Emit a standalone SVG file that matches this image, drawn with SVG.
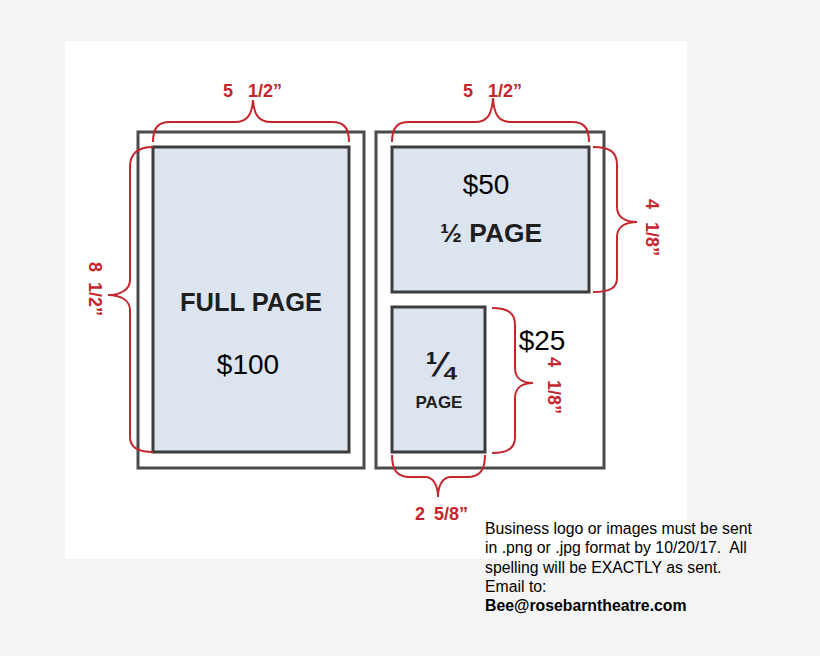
<svg xmlns="http://www.w3.org/2000/svg" width="820" height="656" viewBox="0 0 820 656">
<style>
.outer{fill:#ffffff;stroke:#4a4a4a;stroke-width:3}
.inner{fill:#dbe4ef;stroke:#3c3c3c;stroke-width:3}
.brace{fill:none;stroke:#c4262e;stroke-width:2}
.dim{font-family:"Liberation Sans",Arial,sans-serif;font-weight:bold;font-size:18px;fill:#c4262e}
.lbl{font-family:"Liberation Sans",Arial,sans-serif;font-weight:bold;fill:#1e1e1e;text-anchor:middle}
.price{font-family:"Liberation Sans",Arial,sans-serif;font-size:28px;fill:#000;text-anchor:middle}
.note{font-family:"Liberation Sans",Arial,sans-serif;font-size:15.8px;fill:#000}
</style>
<rect x="0" y="0" width="820" height="656" fill="#f4f4f4"/>
<rect x="65" y="41" width="622" height="518" fill="#ffffff"/>

<g id="full-page">
  <rect class="outer" x="138" y="132" width="226" height="336"/>
  <rect class="inner" x="153" y="147" width="196" height="305"/>
  <text class="lbl" x="251" y="311" font-size="25" textLength="142" lengthAdjust="spacingAndGlyphs">FULL PAGE</text>
  <text class="price" x="248" y="374">$100</text>
</g>

<g id="right-page">
  <rect class="outer" x="376" y="132" width="228" height="336"/>
</g>

<g id="half-page">
  <rect class="inner" x="392" y="147" width="197" height="145"/>
  <text class="price" x="486" y="194">$50</text>
  <text class="lbl" x="491" y="242" font-size="25" textLength="102" lengthAdjust="spacingAndGlyphs">½ PAGE</text>
</g>

<g id="quarter-page">
  <rect class="inner" x="392" y="307" width="93" height="145"/>
  <text class="lbl" x="440" y="376" font-size="35">¼</text>
  <text class="lbl" x="439" y="408" font-size="17">PAGE</text>
  <text class="price" x="542" y="350">$25</text>
</g>

<g id="connectors">
  <path class="brace" d="M153,142 C153,128 158,122 170,122 L235,122 C247,122 252,115 253,100 C254,115 259,122 271,122 L332,122 C344,122 349,128 349,142"/>
  <path class="brace" d="M153,147 C138,147 130,153 130,167 L130,280 C130,290 120,295 108,295 C120,295 130,300 130,310 L130,437 C130,447 138,452 153,452"/>
  <path class="brace" d="M392,142 C392,128 397,122 409,122 L475,122 C487,122 492,115 493,98 C494,115 499,122 511,122 L572,122 C584,122 589,128 589,142"/>
  <path class="brace" d="M593,147 C610,147 617,152 617,165 L617,207 C617,217 625,222 637,222 C625,222 617,227 617,237 L617,278 C617,288 610,292 593,292"/>
  <path class="brace" d="M492,308 C508,308 515,313 515,325 L515,368 C515,378 522,383 533,383 C522,383 515,388 515,398 L515,438 C515,448 508,453 492,453"/>
  <path class="brace" d="M392,455 C392,470 397,477 410,477 L425,477 C433,477 438,485 438,497 C438,485 443,477 451,477 L467,477 C480,477 485,470 485,455"/>
</g>

<g id="dimension-labels">
  <text class="dim" y="97"><tspan x="223">5</tspan><tspan x="248">1/2”</tspan></text>
  <text class="dim" y="97"><tspan x="463">5</tspan><tspan x="488">1/2”</tspan></text>
  <text class="dim" y="520"><tspan x="415">2</tspan><tspan x="434">5/8”</tspan></text>
  <text class="dim" transform="translate(89,262) rotate(90)" y="0"><tspan x="0">8</tspan><tspan x="20">1/2”</tspan></text>
  <text class="dim" transform="translate(646,199) rotate(90)" y="0"><tspan x="0">4</tspan><tspan x="23">1/8”</tspan></text>
  <text class="dim" transform="translate(548,357) rotate(90)" y="0"><tspan x="0">4</tspan><tspan x="23">1/8”</tspan></text>
</g>

<g id="note">
  <text class="note" x="485" y="534">Business logo or images must be sent</text>
  <text class="note" x="485" y="553" xml:space="preserve">in .png or .jpg format by 10/20/17.  All</text>
  <text class="note" x="485" y="573">spelling will be EXACTLY as sent.</text>
  <text class="note" x="485" y="592">Email to:</text>
  <text class="note" x="485" y="611" font-weight="bold">Bee@rosebarntheatre.com</text>
</g>
</svg>
